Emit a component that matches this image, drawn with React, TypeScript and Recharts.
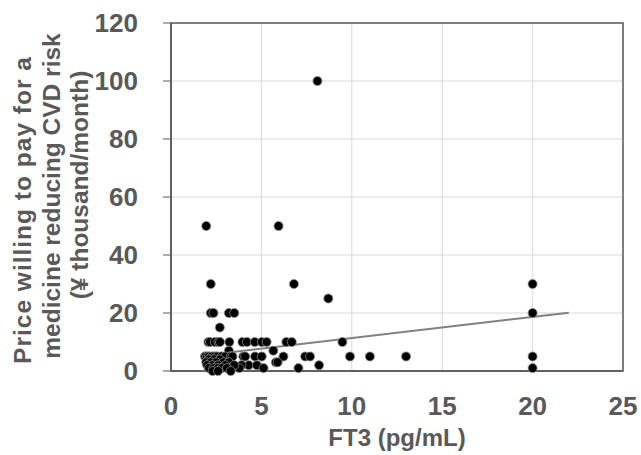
import React from 'react';
import { ScatterChart, Scatter, XAxis, YAxis, ZAxis, CartesianGrid, ReferenceArea } from 'recharts';

// FT3 (pg/mL) vs price willing to pay (thousand yen / month)
const ft3 = [
  8.1, 1.95, 5.95, 2.2, 6.8, 20, 8.7, 2.2, 2.35, 3.2, 3.5, 20, 2.7,
  2.07, 2.16, 2.43, 2.62, 2.71, 3.23, 3.95, 4.2, 4.63, 5.02, 5.29, 6.38, 6.68, 9.48,
  5.66, 3.2,
  1.88, 2.07, 2.34, 2.53, 2.8, 3.27, 3.36, 4.0, 4.1, 4.65, 5.02, 6.22, 7.42, 7.69, 9.9, 11.0, 13.0, 20,
  5.8, 5.9, 4.3, 4.75, 3.9, 8.19,
  3.78, 5.12, 7.05, 20,
  1.9, 2.0, 2.1, 2.25, 2.4, 2.55, 2.8, 3.0, 3.3, 3.4,
  2.1, 2.4, 2.7,
  1.95, 2.2, 2.5, 2.9, 3.2,
  2.0, 2.3, 2.6, 3.0, 3.5,
  2.1, 2.35, 2.6, 2.8, 3.1,
  2.3, 2.6, 3.3,
];
const price = [
  100, 50, 50, 30, 30, 30, 25, 20, 20, 20, 20, 20, 15,
  10, 10, 10, 10, 10, 10, 10, 10, 10, 10, 10, 10, 10, 10,
  7, 7,
  5, 5, 5, 5, 5, 5, 5, 5, 5, 5, 5, 5, 5, 5, 5, 5, 5, 5,
  3, 3, 2, 2, 2, 2,
  1, 1, 1, 1,
  5, 5, 5, 5, 5, 5, 5, 5, 5, 5,
  4, 4, 4,
  3, 3, 3, 3, 3,
  2, 2, 2, 2, 2,
  1, 1, 1, 1, 1,
  0, 0, 0,
];

// linear trendline end points
const trendX = [2, 22];
const trendY = [5.5, 20.1];

const xTicks = [0, 5, 10, 15, 20, 25];
const yTicks = [0, 20, 40, 60, 80, 100, 120];
const yTitle = ['Price willing to pay for a', 'medicine reducing CVD risk', '(\u00a5 thousand/month)'];

const points = ft3.map((x, i) => ({ x, y: price[i] }));
const trend = trendX.map((x, i) => ({ x, y: trendY[i] }));

const FONT = '"Liberation Sans", Arial, sans-serif';
const GREY = '#595959';
const tickStyle = { fontSize: 26, fontWeight: 700, fill: GREY, fontFamily: FONT };

// three-line rotated y title
const YTitle = () => {
  const xs = [31, 60, 88];
  const cys = [210, 196, 185];
  return (
    <g>
      {yTitle.map((t, i) => (
        <text
          key={i}
          x={xs[i]}
          y={cys[i]}
          transform={`rotate(-90 ${xs[i]} ${cys[i]})`}
          textAnchor="middle"
          style={{
            fontSize: 24.5,
            fontWeight: 700,
            fill: GREY,
            fontFamily: FONT,
            letterSpacing: i === 0 ? 1 : 0,
          }}
        >
          {t}
        </text>
      ))}
    </g>
  );
};

const XTitle = (props: any) => {
  const vb = props.viewBox || {};
  const cx = (vb.x ?? 171) + (vb.width ?? 452) / 2;
  return (
    <text x={cx} y={446} textAnchor="middle" style={{ fontSize: 24, fontWeight: 700, fill: GREY, fontFamily: FONT }}>
      FT3 (pg/mL)
    </text>
  );
};

export default function App() {
  return (
    <div style={{ position: 'absolute', left: 0, top: 0, width: 641, height: 455, background: '#fff' }}>
      <ScatterChart width={641} height={455} margin={{ top: 23, right: 18, bottom: 0, left: 0 }}>
        <CartesianGrid stroke="#d9d9d9" strokeWidth={1} />
        <XAxis
          type="number"
          dataKey="x"
          domain={[0, 25]}
          ticks={xTicks}
          height={84}
          tickLine={false}
          tickSize={0}
          tickMargin={26}
          axisLine={{ stroke: GREY, strokeWidth: 1.5 }}
          tick={tickStyle}
          interval={0}
          label={<XTitle />}
        />
        <YAxis
          type="number"
          dataKey="y"
          domain={[0, 120]}
          ticks={yTicks}
          width={171}
          tickSize={8}
          tickMargin={25}
          tickLine={{ stroke: GREY }}
          axisLine={{ stroke: GREY, strokeWidth: 1.5 }}
          tick={tickStyle}
          interval={0}
          label={<YTitle />}
        />
        <ZAxis range={[64, 64]} />
        <ReferenceArea x1={0} x2={25} y1={0} y2={120} fill="none" stroke={GREY} strokeWidth={1.5} />
        <Scatter
          data={trend}
          line={{ stroke: '#808080', strokeWidth: 2 }}
          shape={() => <g />}
          isAnimationActive={false}
        />
        <Scatter data={points} fill="#000" stroke="#8c8c8c" strokeWidth={0.8} isAnimationActive={false} />
      </ScatterChart>
    </div>
  );
}
